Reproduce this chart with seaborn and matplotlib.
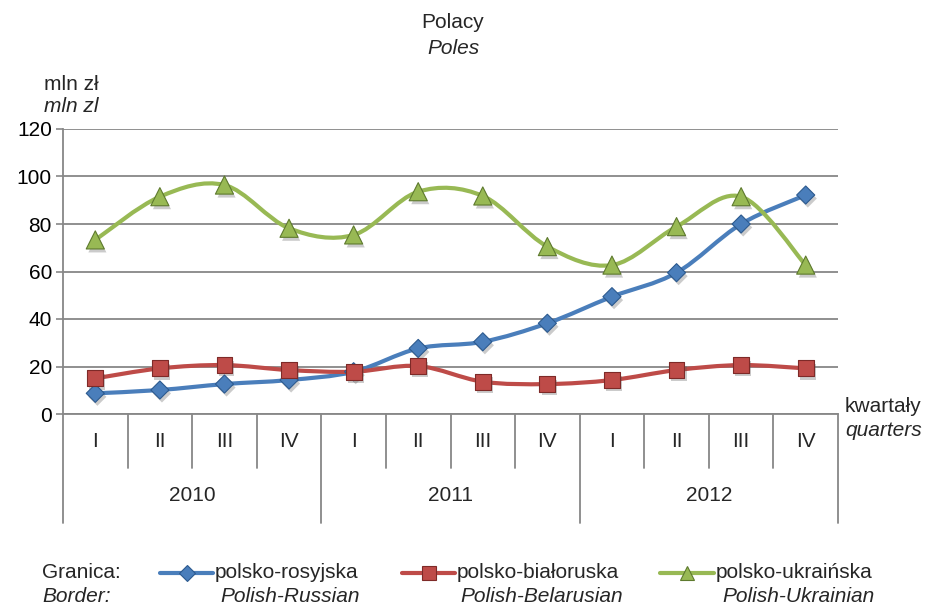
import numpy as np
import pandas as pd
import matplotlib
matplotlib.use("Agg")
import matplotlib.pyplot as plt
import matplotlib.patheffects as pe
from matplotlib.path import Path
from matplotlib.patches import PathPatch
from matplotlib.lines import Line2D
import matplotlib.transforms as mtransforms
import seaborn as sns

# Data (mln zl per quarter)
quarters = ['I', 'II', 'III', 'IV'] * 3
years = ['2010', '2011', '2012']
russian = [8.7, 10.1, 12.6, 14.3, 17.8, 27.6, 30.4, 38.2, 49.4, 59.5, 80.0, 92.2]
belarusian = [15.0, 19.2, 20.6, 18.5, 17.8, 20.2, 13.6, 12.6, 14.3, 18.5, 20.6, 19.2]
ukrainian = [73.3, 91.5, 96.4, 78.2, 75.4, 93.6, 91.8, 70.5, 62.7, 78.9, 91.5, 62.7]

series_pl = ['polsko-rosyjska', 'polsko-białoruska', 'polsko-ukraińska']
series_en = ['Polish-Russian', 'Polish-Belarusian', 'Polish-Ukrainian']
colors = {'polsko-rosyjska': '#4A7EBB', 'polsko-białoruska': '#BE4B48', 'polsko-ukraińska': '#98B954'}
edges = {'polsko-rosyjska': '#2C5A8F', 'polsko-białoruska': '#7E2A28', 'polsko-ukraińska': '#5E7A2E'}
markers = {'polsko-rosyjska': 'D', 'polsko-białoruska': 's', 'polsko-ukraińska': '^'}
msizes = {'polsko-rosyjska': 85, 'polsko-białoruska': 130, 'polsko-ukraińska': 170}

sns.set_theme(style='white')
plt.rcParams['font.family'] = ['Liberation Sans', 'DejaVu Sans']

x = np.arange(len(quarters))
df = pd.DataFrame({
    'x': np.tile(x, 3),
    'value': russian + belarusian + ukrainian,
    'series': np.repeat(series_pl, len(quarters)),
})

fig = plt.figure(figsize=(9.26, 6.07), dpi=100)
ax = fig.add_axes([63 / 926, 1 - 414 / 607, (838 - 63) / 926, (414 - 129) / 607])

GRID = '#878787'
fs = 15


def smooth_path(xs, ys):
    # Excel-style smoothed line: cubic Bezier through every point
    pts = np.column_stack([xs, ys]).astype(float)
    n = len(pts)
    verts = [pts[0]]
    codes = [Path.MOVETO]
    for i in range(n - 1):
        p0 = pts[max(i - 1, 0)]
        p1 = pts[i]
        p2 = pts[i + 1]
        p3 = pts[min(i + 2, n - 1)]
        c1 = p1 + (p2 - p0) / 6.0
        c2 = p2 - (p3 - p1) / 6.0
        verts += [c1, c2, p2]
        codes += [Path.CURVE4] * 3
    return Path(verts, codes)


for name in series_pl:
    sub = df[df['series'] == name]
    patch = PathPatch(smooth_path(sub['x'].values, sub['value'].values), fill=False,
                      edgecolor=colors[name], lw=3.0, zorder=3, capstyle='round')
    ax.add_patch(patch)

sns.scatterplot(data=df, x='x', y='value', hue='series', style='series', size='series',
                palette=colors, markers=markers, sizes=msizes, ax=ax, legend=False,
                zorder=4, linewidth=0.8)
sc = ax.collections[-1]
sc.set_edgecolors([edges[s] for s in df['series']])
sc.set_path_effects([pe.SimplePatchShadow(offset=(1.5, -2.5), shadow_rgbFace='#555555', alpha=0.3),
                     pe.Normal()])

ax.set_xlim(-0.5, len(quarters) - 0.5)
ax.set_ylim(0, 120)
ax.set_yticks(range(0, 121, 20))
ax.set_yticklabels([str(v) for v in range(0, 121, 20)], fontsize=fs, color='black')
ax.tick_params(axis='y', length=5, width=1.2, color=GRID, pad=3, left=True)
ax.set_xticks([])
ax.set_xlabel('')
ax.set_ylabel('')
ax.grid(axis='y', color=GRID, lw=1.3)
ax.set_axisbelow(True)
for side in ['top', 'right']:
    ax.spines[side].set_visible(False)
ax.spines['left'].set_color(GRID)
ax.spines['left'].set_linewidth(1.3)
ax.spines['bottom'].set_color(GRID)
ax.spines['bottom'].set_linewidth(1.3)

# two-level category axis
tr = mtransforms.blended_transform_factory(ax.transData, ax.transAxes)
for i, q in enumerate(quarters):
    ax.text(i, -0.095, q, transform=tr, ha='center', va='center', fontsize=fs)
for i in range(len(quarters) + 1):
    xb = i - 0.5
    y_end = -0.383 if i % 4 == 0 else -0.19
    ax.plot([xb, xb], [0, y_end], transform=tr, color=GRID, lw=1.3, clip_on=False)
for j, yr in enumerate(years):
    ax.text(4 * j + 1.5, -0.285, yr, transform=tr, ha='center', va='center', fontsize=fs)

# titles and axis captions
fig.text(453 / 926, 1 - 22 / 607, 'Polacy', ha='center', va='center', fontsize=fs)
fig.text(453 / 926, 1 - 48 / 607, 'Poles', ha='center', va='center', fontsize=fs, style='italic')
fig.text(44 / 926, 1 - 85 / 607, 'mln zł', ha='left', va='center', fontsize=fs)
fig.text(44 / 926, 1 - 106 / 607, 'mln zl', ha='left', va='center', fontsize=fs, style='italic')
fig.text(845 / 926, 1 - 407 / 607, 'kwartały', ha='left', va='center', fontsize=fs)
fig.text(845 / 926, 1 - 430 / 607, 'quarters', ha='left', va='center', fontsize=fs, style='italic')

# legend at the bottom
fig.text(42 / 926, 1 - 573 / 607, 'Granica:', ha='left', va='center', fontsize=fs)
fig.text(42 / 926, 1 - 597 / 607, 'Border:', ha='left', va='center', fontsize=fs, style='italic')
key_x = [(160, 213), (402, 455), (660, 714)]
en_x = [290, 542, 798]
for name, en, (x0, x1), ex in zip(series_pl, series_en, key_x, en_x):
    y0 = 1 - 573 / 607
    fig.add_artist(Line2D([x0 / 926, x1 / 926], [y0, y0], color=colors[name], lw=3.0,
                          transform=fig.transFigure))
    fig.add_artist(Line2D([(x0 + x1) / 2 / 926], [y0], color=colors[name], marker=markers[name],
                          markersize=8 if markers[name] == 'D' else 10,
                          markeredgecolor=edges[name], markeredgewidth=0.8,
                          transform=fig.transFigure))
    fig.text((x1 + 2) / 926, y0, name, ha='left', va='center', fontsize=fs)
    fig.text(ex / 926, 1 - 597 / 607, en, ha='center', va='center', fontsize=fs, style='italic')

fig.savefig('out.png', dpi=100)
